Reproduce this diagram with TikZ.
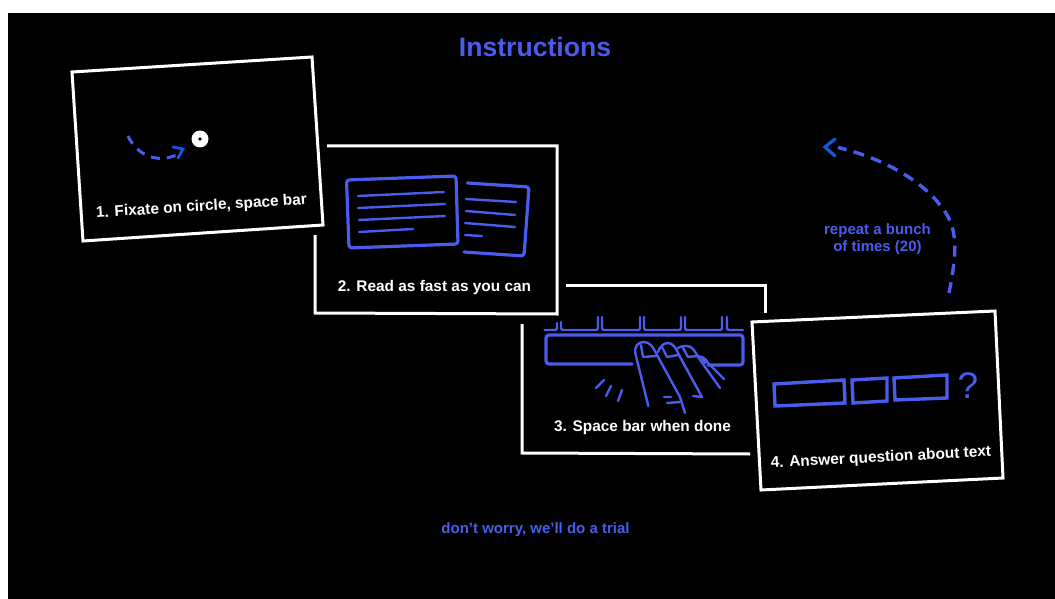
\documentclass[tikz,border=0pt]{standalone}
\usepackage{fontspec}
\setmainfont{Liberation Sans}
\definecolor{ib}{HTML}{4A5CEB}
\definecolor{arrowb}{HTML}{0F5BE0}
\tikzset{
 card/.style={draw=white,line width=3pt,line join=miter},
 icon/.style={draw=ib,line width=3.2pt,line cap=round,line join=round},
 thin icon/.style={draw=ib,line width=2.4pt,line cap=round,line join=round},
 captext/.style={text=white,font=\fontsize{15.4}{18}\selectfont\bfseries,inner sep=0pt},
 bl/.style={text=ib,font=\fontsize{15}{17}\selectfont\bfseries,inner sep=0pt,align=center},
 head/.style={draw=arrowb,line width=2.8pt,line cap=round,line join=miter},
}
\begin{document}
\begin{tikzpicture}[x=1pt,y=-1pt]
\useasboundingbox (0,0) rectangle (1055,599);
\fill[white] (0,0) rectangle (1055,599);
\fill[black] (8,13) rectangle (1055,599);
\node[inner sep=0pt,text=ib,font=\fontsize{26.6}{30}\selectfont\bfseries] (title) at (535,47) {Instructions};
% card 1
\draw[card] (72,72) -- (312,57) -- (323,225) -- (83,241) -- cycle;
\draw[draw=ib,line width=3pt,dash pattern=on 9pt off 7pt] (128,136) .. controls (137,156) and (160,165) .. (180,153);
\draw[head] (173,147) -- (183,149) -- (178,158);
\fill[white] (200,139) circle (8.5);
\fill[black] (200,139) circle (1.8);
\node[captext,rotate=3.7] (c1) at (201.5,207) {1. Fixate on circle, space bar};
% card 2
\draw[card] (327,146) -- (557,146) -- (557,314) -- (315,313) -- (315,235);
\draw[icon,rounded corners=3pt] (346.5,180) -- (456,176) -- (458,244) -- (349,248) -- cycle;
\draw[thin icon] (358,196) -- (444,192) (358,208) -- (445,204) (359,220) -- (445,216) (359,232) -- (413,229);
\draw[icon,rounded corners=3pt] (467.5,183) -- (529,187) -- (524,256) -- (464,252);
\draw[thin icon] (466,199) -- (516,202) (466,211) -- (515,215) (465,223) -- (515,227) (465,235) -- (482,236);
\node[captext] (c2) at (434.5,288) {2. Read as fast as you can};
% card 3
\draw[card] (566,285) -- (765,285) -- (765,313);
\draw[card] (522,324) -- (522,453) -- (750,454);
\draw[icon,rounded corners=3pt] (632,364) -- (546,364) -- (546,335) -- (743,335) -- (743,365) -- (708,365);
\draw[thin icon,rounded corners=2pt]
 (544.5,330) -- (557,330) -- (557,323)
 (561,322) -- (561,330) -- (598,330) -- (598,317)
 (602,317) -- (602,330) -- (640,330) -- (640,317)
 (644,317) -- (644,330) -- (681,330) -- (681,317)
 (685,317) -- (685,330) -- (722,330) -- (722,317)
 (727,317) -- (727,330) -- (743,330);
\draw[thin icon] (596,388) -- (604,380) (606,396) -- (611,386) (618,401) -- (622,390);
% fingers
\draw[thin icon] (648.3,406) -- (635.5,354) .. controls (634,346) and (638,342) .. (644,342) .. controls (650,342) and (653,347) .. (657,355) -- (680,397) -- (685,413);
\draw[thin icon] (641,345) -- (643,357) -- (656,356);
\draw[thin icon] (658,352) .. controls (660,346) and (664,343) .. (668,343) .. controls (673,343) and (676,348) .. (680,357) -- (702,397) -- (693,396);
\draw[thin icon] (662,347) -- (667,357) -- (678,355);
\draw[thin icon] (678,348) .. controls (681,346) and (685,346) .. (687,346) .. controls (692,346) and (695,351) .. (698,357) -- (720,388);
\draw[thin icon] (683,348) -- (688,357) -- (698,356);
\draw[thin icon] (697,356) -- (702,357) .. controls (705,358) and (707,361) .. (708,363) -- (724,379);
\draw[thin icon] (702,358) -- (705,363);
\draw[thin icon] (664,397) -- (671,397) (667,403) -- (680,402);
\node[captext] (c3) at (642.5,427.5) {3. Space bar when done};
% card 4
\draw[card] (752,322) -- (995,311) -- (1003,478) -- (761,490) -- cycle;
\draw[icon,line width=3.4pt,line join=miter] (774,384) -- (844,380) -- (845,403) -- (775,406) -- cycle;
\draw[icon,line width=3.4pt,line join=miter] (852,380) -- (887,378) -- (887,401) -- (853,403) -- cycle;
\draw[icon,line width=3.4pt,line join=miter] (894,378) -- (947,375) -- (947,398) -- (895,400) -- cycle;
\node[inner sep=0pt,text=ib,font=\fontsize{37}{40}\selectfont] (q) at (968,385.5) {?};
\node[captext,rotate=3] (c4) at (881,458) {4. Answer question about text};
% repeat arrow
\draw[draw=ib,line width=3.4pt,dash pattern=on 11pt off 7.4pt] (949,293) .. controls (957,252) and (959,227) .. (940,205) .. controls (925,185) and (890,160) .. (838,147.5);
\draw[head,line width=3.2pt] (835,139) -- (825,147) -- (835,156);
\node[bl] (rep) at (877.5,239.5) {repeat a bunch\\of times (20)};
\node[bl] (trial) at (535.5,530) {don’t worry, we’ll do a trial};
\end{tikzpicture}
\end{document}
